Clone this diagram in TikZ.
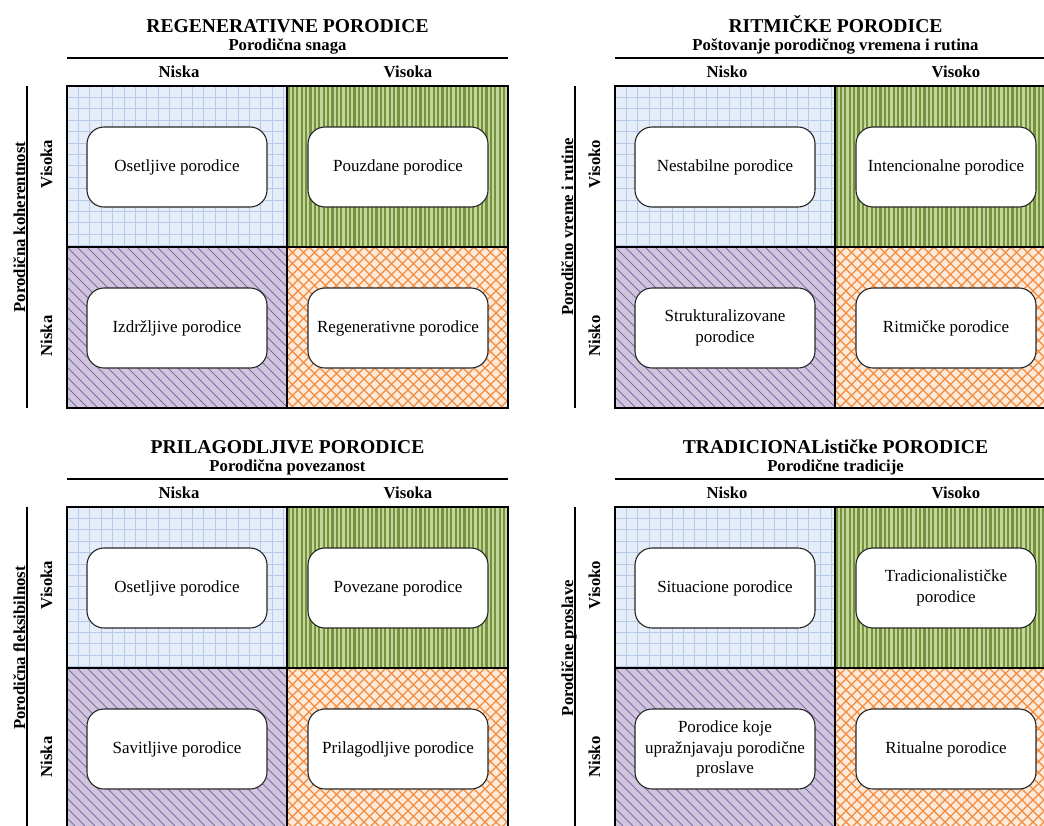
\documentclass[tikz,border=0pt]{standalone}
\usepackage{fontspec}
\setmainfont{Liberation Serif}
\usetikzlibrary{positioning}
\definecolor{gridbg}{HTML}{E5EDF8}
\definecolor{gridln}{HTML}{B6C9E8}
\definecolor{stripelt}{HTML}{C3D69B}
\definecolor{stripedk}{HTML}{76923C}
\definecolor{lilacbg}{HTML}{CFC6DE}
\definecolor{lilacln}{HTML}{8468A8}
\definecolor{peachbg}{HTML}{FDEADA}
\definecolor{orangeln}{HTML}{F08A3C}
\tikzset{
    fambox/.style={
           rectangle,
           rounded corners=17pt,
           draw=black!85, line width=1.1pt,
           fill=white,
           minimum width=180pt,
           minimum height=80pt,
           align=center,
           font=\fontsize{17}{20.7}\selectfont
           },
    titlelabel/.style={anchor=base, font=\fontsize{19.6}{22}\selectfont\bfseries},
    headlabel/.style={anchor=base, font=\fontsize{16.7}{19}\selectfont\bfseries},
    sidelabel/.style={anchor=base, rotate=90, font=\fontsize{16.7}{19}\selectfont\bfseries},
    axisrule/.style={line width=1.3pt},
    cellborder/.style={line width=2pt},
}
% the four shaded cells of one panel, with its frame and rules
\newcommand{\cellpatterns}{%
  % top left: blue grid
  \begin{scope}
    \clip (67,86) rectangle (287,247);
    \fill[gridbg] (67,86) rectangle (287,247);
    \foreach \k in {1,...,19} \draw[gridln, line width=1pt] ({67+11.4*\k},86) -- ({67+11.4*\k},247);
    \foreach \k in {1,...,14} \draw[gridln, line width=1pt] (67,{86+11.4*\k}) -- (287,{86+11.4*\k});
  \end{scope}
  % top right: green stripes
  \begin{scope}
    \clip (287,86) rectangle (508,247);
    \fill[stripelt] (287,86) rectangle (508,247);
    \foreach \k in {0,...,50} \draw[stripedk, line width=2.2pt] ({288.5+4.4*\k},86) -- ({288.5+4.4*\k},247);
  \end{scope}
  % bottom left: lilac hatch
  \begin{scope}
    \clip (67,247) rectangle (287,408);
    \fill[lilacbg] (67,247) rectangle (287,408);
    \foreach \k in {-17,...,23} \draw[lilacln, line width=1pt] ({67+10*\k},247) -- ({67+10*\k+161},408);
  \end{scope}
  % bottom right: orange cross hatch
  \begin{scope}
    \clip (287,247) rectangle (508,408);
    \fill[peachbg] (287,247) rectangle (508,408);
    \foreach \k in {-15,...,35} {
      \draw[orangeln, line width=1.2pt] ({287+11*\k},247) -- ({287+11*\k+161},408);
      \draw[orangeln, line width=1.2pt] ({287+11*\k},247) -- ({287+11*\k-161},408);
    }
  \end{scope}
  \draw[cellborder] (67,86) rectangle (508,408);
  \draw[cellborder] (287,86) -- (287,408) (67,247) -- (508,247);
  \draw[axisrule] (67,58) -- (508,58);
  \draw[axisrule] (27,86) -- (27,408);
}

\begin{document}
\begin{tikzpicture}[x=1pt,y=-1pt]
\useasboundingbox (0,0) rectangle (1044,825);
\clip (0,0) rectangle (1044,825);

% Panel: regenerativne
\begin{scope}
\cellpatterns
\node[titlelabel] (REGTITLE) at (287.5,32) {REGENERATIVNE PORODICE};
\node[headlabel] (REGSUB) at (287.5,50) {Porodična snaga};
\node[headlabel] (REGLOW) at (179,77) {Niska};
\node[headlabel] (REGHIGH) at (408,77) {Visoka};
\node[sidelabel] (REGAXIS) at (25,227) {Porodična koherentnost};
\node[sidelabel] (REGROWHIGH) at (52,164) {Visoka};
\node[sidelabel] (REGROWLOW) at (52,336) {Niska};
\node[fambox] (OSETLJIVE) at (177,167) {Osetljive porodice};
\node[fambox] (POUZDANE) at (398,167) {Pouzdane porodice};
\node[fambox] (IZDRZLJIVE) at (177,328) {Izdržljive porodice};
\node[fambox] (REGENERATIVNE) at (398,328) {Regenerativne porodice};
\end{scope}

% Panel: ritmicke
\begin{scope}[shift={(548,0)}]
\cellpatterns
\node[titlelabel] (RITTITLE) at (287.5,32) {RITMIČKE PORODICE};
\node[headlabel] (RITSUB) at (287.5,50) {Poštovanje porodičnog vremena i rutina};
\node[headlabel] (RITLOW) at (179,77) {Nisko};
\node[headlabel] (RITHIGH) at (408,77) {Visoko};
\node[sidelabel] (RITAXIS) at (25,227) {Porodično vreme i rutine};
\node[sidelabel] (RITROWHIGH) at (52,164) {Visoko};
\node[sidelabel] (RITROWLOW) at (52,336) {Nisko};
\node[fambox] (NESTABILNE) at (177,167) {Nestabilne porodice};
\node[fambox] (INTENCIONALNE) at (398,167) {Intencionalne porodice};
\node[fambox] (STRUKTURALIZOVANE) at (177,328) {Strukturalizovane\\porodice};
\node[fambox] (RITMICKE) at (398,328) {Ritmičke porodice};
\end{scope}

% Panel: prilagodljive
\begin{scope}[shift={(0,421)}]
\cellpatterns
\node[titlelabel] (PRITITLE) at (287.5,32) {PRILAGODLJIVE PORODICE};
\node[headlabel] (PRISUB) at (287.5,50) {Porodična povezanost};
\node[headlabel] (PRILOW) at (179,77) {Niska};
\node[headlabel] (PRIHIGH) at (408,77) {Visoka};
\node[sidelabel] (PRIAXIS) at (25,227) {Porodična fleksibilnost};
\node[sidelabel] (PRIROWHIGH) at (52,164) {Visoka};
\node[sidelabel] (PRIROWLOW) at (52,336) {Niska};
\node[fambox] (OSETLJIVE2) at (177,167) {Osetljive porodice};
\node[fambox] (POVEZANE) at (398,167) {Povezane porodice};
\node[fambox] (SAVITLJIVE) at (177,328) {Savitljive porodice};
\node[fambox] (PRILAGODLJIVE) at (398,328) {Prilagodljive porodice};
\end{scope}

% Panel: tradicionalisticke
\begin{scope}[shift={(548,421)}]
\cellpatterns
\node[titlelabel] (TRATITLE) at (287.5,32) {TRADICIONALističke PORODICE};
\node[headlabel] (TRASUB) at (287.5,50) {Porodične tradicije};
\node[headlabel] (TRALOW) at (179,77) {Nisko};
\node[headlabel] (TRAHIGH) at (408,77) {Visoko};
\node[sidelabel] (TRAAXIS) at (25,227) {Porodične proslave};
\node[sidelabel] (TRAROWHIGH) at (52,164) {Visoko};
\node[sidelabel] (TRAROWLOW) at (52,336) {Nisko};
\node[fambox] (SITUACIONE) at (177,167) {Situacione porodice};
\node[fambox] (TRADICIONALISTICKE) at (398,167) {Tradicionalističke\\porodice};
\node[fambox] (SLAVLJENICKE) at (177,328) {Porodice koje\\upražnjavaju porodične\\proslave};
\node[fambox] (RITUALNE) at (398,328) {Ritualne porodice};
\end{scope}

\end{tikzpicture}
\end{document}
